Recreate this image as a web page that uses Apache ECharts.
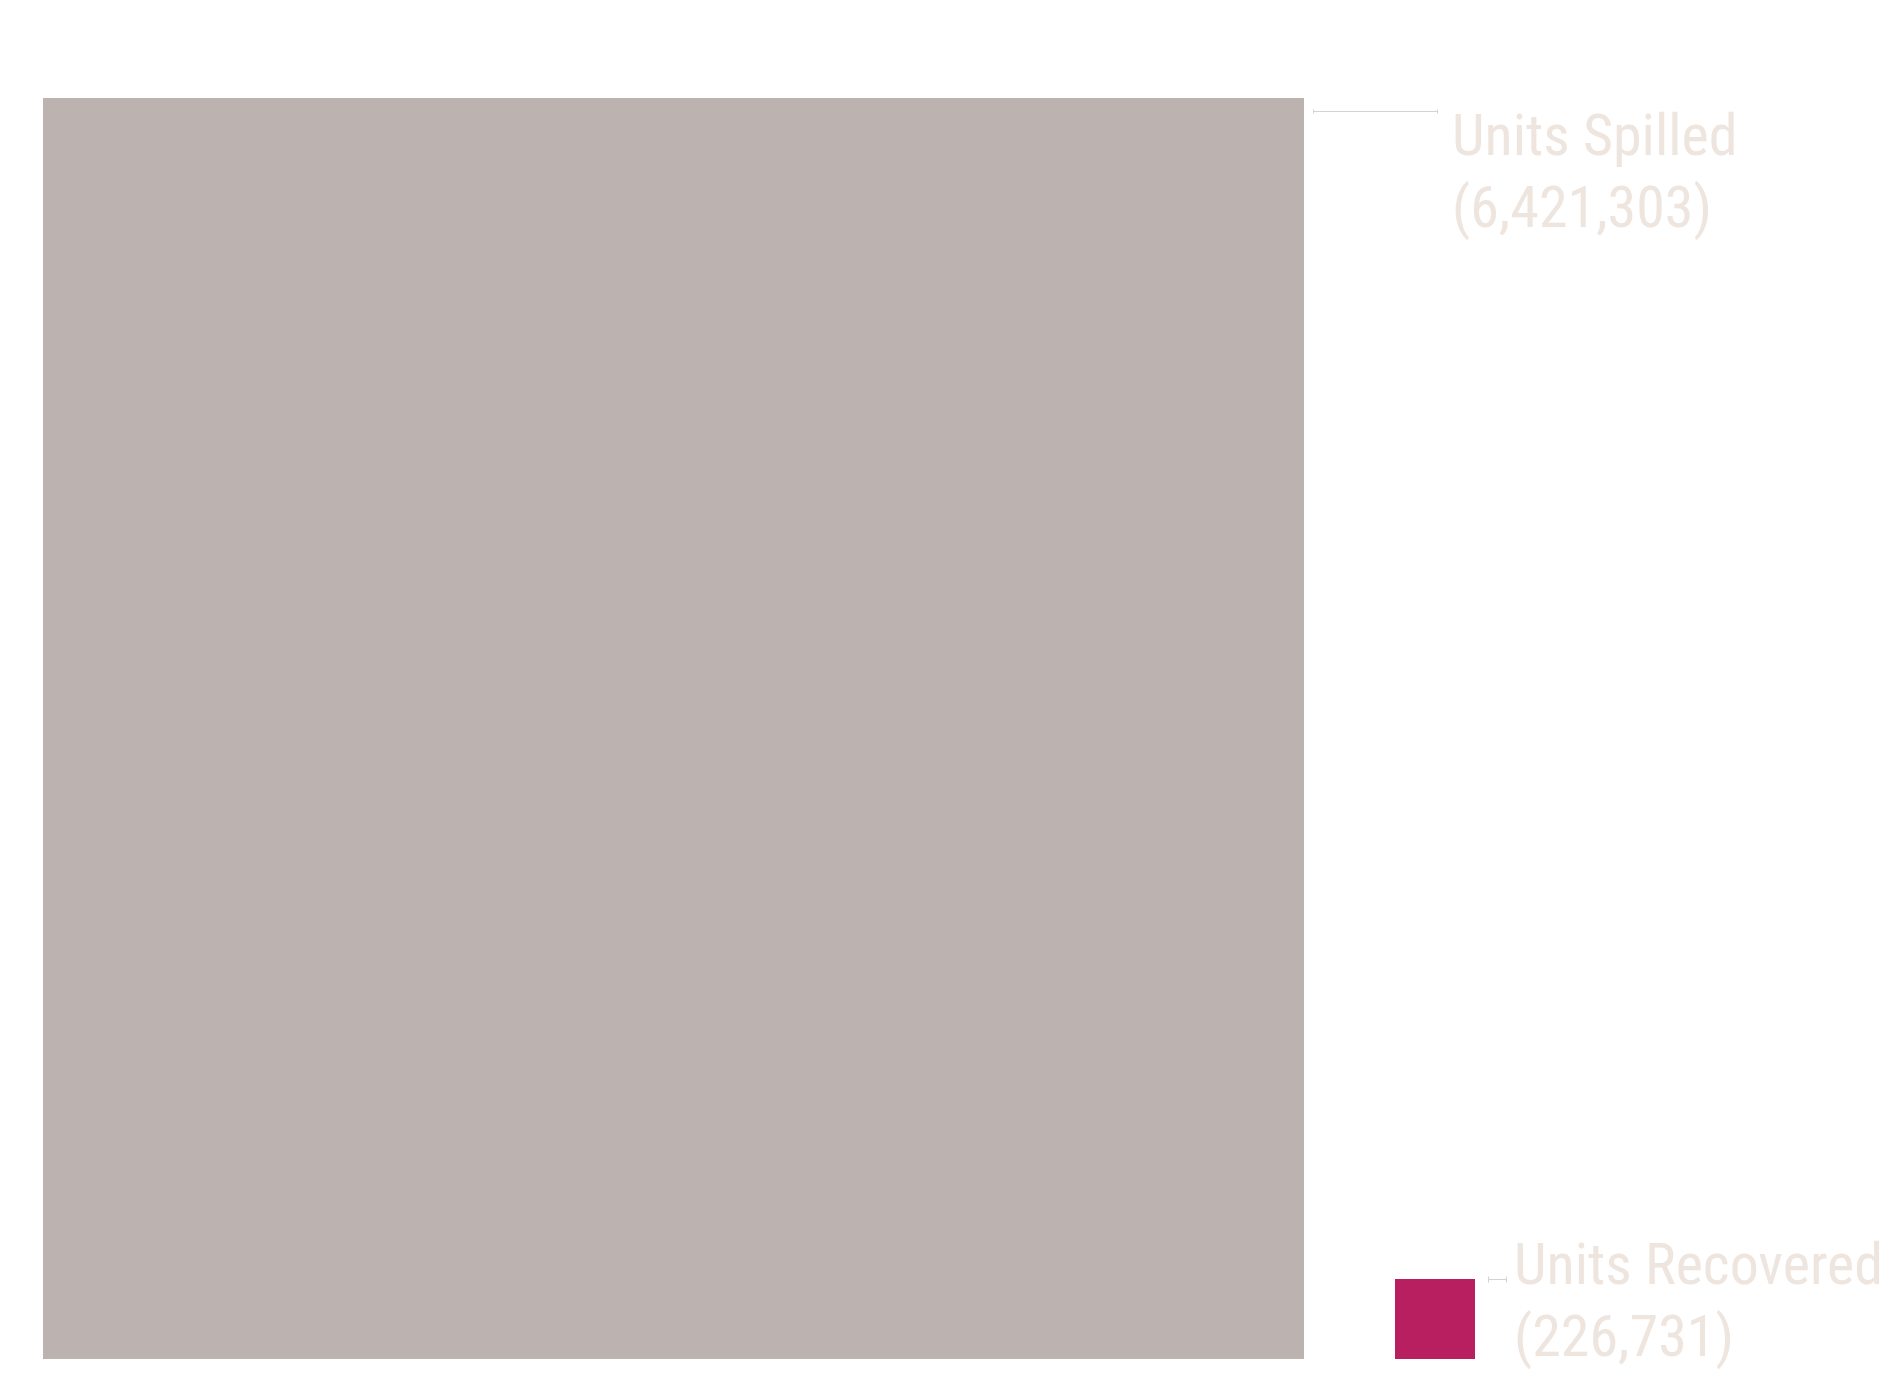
<!DOCTYPE html>
<html>
<head>
<meta charset="utf-8">
<style>
  html, body { margin: 0; padding: 0; background: #ffffff; }
  #chart { width: 1889px; height: 1392px; }
</style>
<script src="https://cdn.jsdelivr.net/npm/echarts@6/dist/echarts.min.js"></script>
</head>
<body>
<div id="chart"></div>
<script>
const categories = ['Units Spilled', 'Units Recovered'];
const unitValues = [6421303, 226731];
const colors = ['#BCB3B1', '#B81F60'];

const chart = echarts.init(document.getElementById('chart'));

const textColor = '#EEE5DF';
const fontFamily = "'Roboto Condensed', 'Roboto', sans-serif";

// layout of each square (pixels)
const boxes = [
  { left: 43, top: 98, size: 1261, labelDx: 1409, labelDy: 6 },
  { left: 1395, top: 1279, size: 80, labelDx: 119, labelDy: -46 }
];

const grids = [], xAxes = [], yAxes = [], series = [];
categories.forEach((name, i) => {
  const b = boxes[i];
  grids.push({ left: b.left, top: b.top, width: b.size, height: b.size });
  xAxes.push({ type: 'category', gridIndex: i, data: [name], show: false, boundaryGap: true });
  yAxes.push({ type: 'value', gridIndex: i, min: 0, max: unitValues[i], show: false });
  series.push({
    type: 'bar',
    xAxisIndex: i,
    yAxisIndex: i,
    barWidth: '100%',
    silent: true,
    itemStyle: { color: colors[i] },
    data: [{ name: name, value: unitValues[i] }],
    label: {
      show: true,
      position: [b.labelDx, b.labelDy],
      formatter: p => p.name + '\n(' + p.value.toLocaleString('en-US') + ')',
      color: textColor,
      fontFamily: fontFamily,
      fontSize: 58,
      lineHeight: 72,
      align: 'left',
      verticalAlign: 'top'
    }
  });
});

function leader(x1, x2, y, cap) {
  return [
    { type: 'line', shape: { x1: x1, y1: y, x2: x2, y2: y }, style: { stroke: '#D3D3D3', lineWidth: 1 } },
    { type: 'line', shape: { x1: x1, y1: y - cap, x2: x1, y2: y + cap }, style: { stroke: '#D3D3D3', lineWidth: 1 } },
    { type: 'line', shape: { x1: x2, y1: y - cap, x2: x2, y2: y + cap }, style: { stroke: '#D3D3D3', lineWidth: 1 } }
  ];
}

chart.setOption({
  animation: false,
  grid: grids,
  xAxis: xAxes,
  yAxis: yAxes,
  series: series,
  graphic: [].concat(leader(1313.5, 1437.5, 111.5, 2), leader(1488.5, 1506.5, 1279.5, 3))
});
</script>
</body>
</html>
